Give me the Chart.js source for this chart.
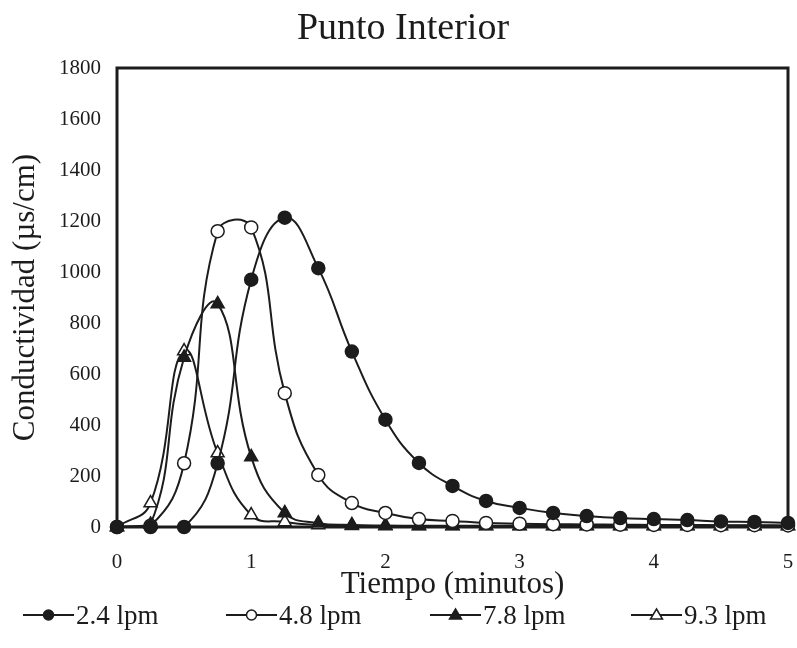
<!DOCTYPE html>
<html>
<head>
<title>Punto Interior</title>
<script src="https://cdn.jsdelivr.net/npm/chart.js@4.4.1/dist/chart.umd.min.js"></script>
<style>
  body { margin: 0; background: #fff; }
  #wrap { position: relative; width: 797px; height: 648px; }
  #leyenda { position: absolute; left: 0; top: 600px; width: 797px; height: 30px;
             font-family: 'Liberation Serif', 'DejaVu Serif', serif; font-size: 27px; color: #1c1c1c; }
  .item { position: absolute; top: 0; height: 30px; display: flex; align-items: center; white-space: nowrap; }
  .item svg { margin-right: 2px; }
</style>
</head>
<body>
<div id="wrap">
  <canvas id="chart" width="797" height="648"></canvas>
  <div id="leyenda"></div>
</div>
<script>
// time in minutes
const tiempo = [0, 0.25, 0.5, 0.75, 1, 1.25, 1.5, 1.75, 2, 2.25, 2.5, 2.75, 3, 3.25, 3.5, 3.75, 4, 4.25, 4.5, 4.75, 5];

// conductivity (us/cm) for each flow
const flujo24 = [0, 0, 0, 250, 970, 1213, 1015, 688, 421, 251, 161, 102, 75, 55, 43, 35, 31, 27, 22, 20, 16];
const flujo48 = [0, 5, 250, 1160, 1175, 525, 204, 94, 55, 31, 24, 16, 13, 11, 10, 9, 8, 8, 7, 7, 6];
const flujo78 = [0, 10, 665, 875, 275, 55, 15, 8, 6, 5, 5, 5, 5, 5, 5, 5, 5, 5, 5, 5, 5];
const flujo93 = [0, 94, 690, 290, 47, 20, 8, 5, 4, 4, 4, 4, 4, 4, 4, 4, 4, 4, 4, 4, 4];

const etiquetas = ['2.4 lpm', '4.8 lpm', '7.8 lpm', '9.3 lpm'];
const yTicks = [0, 200, 400, 600, 800, 1000, 1200, 1400, 1600, 1800];
const xTicks = [0, 1, 2, 3, 4, 5];

const ink = '#1c1c1c';
const serif = "'Liberation Serif', 'DejaVu Serif', serif";

function pts(ys) {
    return tiempo.map((t, i) => ({ x: t, y: ys[i] }));
}

function serie(label, ys, shape, filled) {
    return {
        label: label,
        data: pts(ys),
        borderColor: ink,
        borderWidth: 2,
        tension: 0.45,
        pointStyle: shape,
        pointRadius: shape == 'circle' ? 6.5 : 7.5,
        pointBorderWidth: 1.5,
        pointBorderColor: ink,
        pointBackgroundColor: filled ? ink : '#fff',
        clip: false,
        shape: shape,
        filled: filled
    };
}

// thick frame around the plot area
const marco = {
    id: 'marco',
    beforeDatasetsDraw(chart) {
        const a = chart.chartArea, g = chart.ctx;
        g.save();
        g.strokeStyle = ink; g.lineWidth = 3;
        g.strokeRect(a.left, a.top, a.right - a.left, a.bottom - a.top);
        g.restore();
    }
};

ctx = document.getElementById('chart');
grafico = new Chart(ctx, {
    type: 'line',
    data: {
        datasets: [
            serie(etiquetas[0], flujo24, 'circle', true),
            serie(etiquetas[1], flujo48, 'circle', false),
            serie(etiquetas[2], flujo78, 'triangle', true),
            serie(etiquetas[3], flujo93, 'triangle', false)
        ]
    },
    options: {
        responsive: false,
        animation: false,
        layout: { padding: { left: 16, right: 7, top: 0, bottom: 47 } },
        plugins: {
            title: {
                display: true,
                text: 'Punto Interior',
                color: ink,
                font: { family: serif, size: 38, weight: 'normal', lineHeight: 1 },
                padding: { top: 10, bottom: 20 }
            },
            legend: { display: false },
            tooltip: { enabled: false }
        },
        scales: {
            x: {
                type: 'linear',
                min: 0, max: 5,
                afterBuildTicks(s) { s.ticks = xTicks.map(v => ({ value: v })); },
                afterFit(s) { s.height = 74; s.paddingLeft = 0; s.paddingRight = 0; },
                grid: { display: false, drawTicks: false },
                border: { display: false },
                ticks: { color: ink, padding: 25, font: { family: serif, size: 21, lineHeight: 1 } },
                title: {
                    display: true,
                    text: 'Tiempo (minutos)',
                    color: ink,
                    font: { family: serif, size: 31, lineHeight: 1 },
                    padding: { top: 0, bottom: 1 }
                }
            },
            y: {
                min: 0, max: 1800,
                afterBuildTicks(s) { s.ticks = yTicks.map(v => ({ value: v })); },
                afterFit(s) { s.width = 101; },
                grid: { display: false, drawTicks: false },
                border: { display: false },
                ticks: { color: ink, padding: 16, font: { family: serif, size: 21 }, callback: v => String(v) },
                title: {
                    display: true,
                    text: 'Conductividad (µs/cm)',
                    color: ink,
                    font: { family: serif, size: 31, lineHeight: 1 },
                    padding: { top: -6, bottom: 0 }
                }
            }
        }
    },
    plugins: [marco]
});

// legend below the chart: line with the marker in the middle
const leyendaX = [23, 226, 430, 631];
const caja = document.getElementById('leyenda');
grafico.data.datasets.forEach((d, i) => {
    const fill = d.filled ? ink : '#fff';
    const mark = d.shape == 'circle'
        ? `<circle cx="25.5" cy="9" r="5" fill="${fill}" stroke="${ink}" stroke-width="1.5"/>`
        : `<polygon points="25.5,3 31.5,13 19.5,13" fill="${fill}" stroke="${ink}" stroke-width="1.5"/>`;
    const el = document.createElement('div');
    el.className = 'item';
    el.style.left = leyendaX[i] + 'px';
    el.innerHTML = `<svg width="51" height="18"><line x1="0" y1="9" x2="51" y2="9" stroke="${ink}" stroke-width="2"/>${mark}</svg><span>${d.label}</span>`;
    caja.appendChild(el);
});
</script>
</body>
</html>
